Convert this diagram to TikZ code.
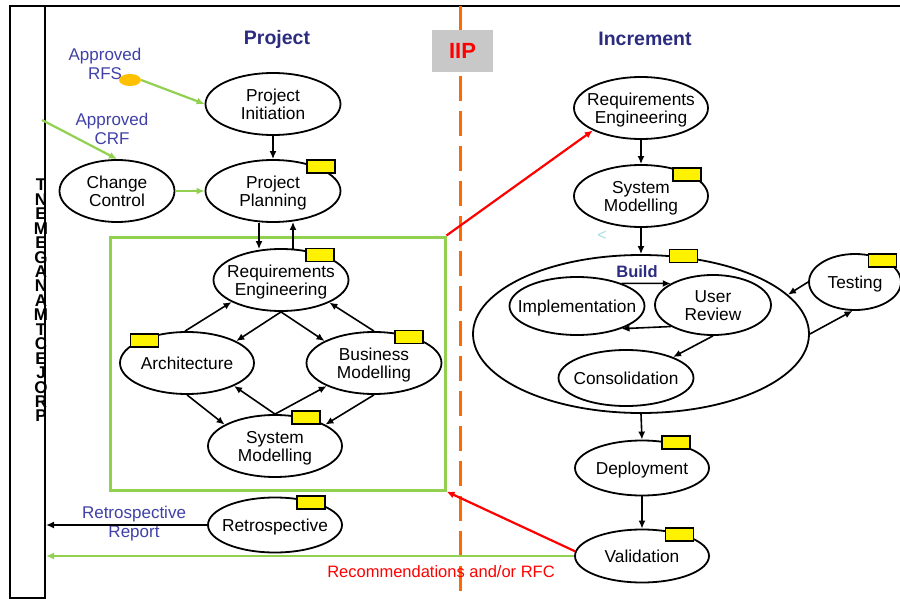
\documentclass[tikz,border=0pt]{standalone}
\usepackage{fontspec}
\setmainfont{Liberation Sans}
\usetikzlibrary{shapes.geometric,arrows.meta,calc}
\definecolor{navy}{HTML}{2B2B80}
\definecolor{lblue}{HTML}{4040A8}
\definecolor{lgreen}{HTML}{92D050}
\definecolor{dorange}{HTML}{FF6A00}
\definecolor{gold}{HTML}{FFC000}
\definecolor{lgray}{HTML}{C8C8C8}
\definecolor{lcyan}{HTML}{A8DCDC}
\newcommand{\nf}{\fontsize{17.3}{18}\selectfont}
\newcommand{\zw}[1]{\makebox[0pt]{\raisebox{-7.3pt}[0pt][0pt]{\begin{tabular}{@{}c@{}}#1\end{tabular}}}}
\begin{document}
\begin{tikzpicture}[x=1pt,y=-1pt,
  proc/.style={draw, ellipse, line width=1.8pt, fill=white, inner sep=0pt, font=\nf},
  tag/.style={draw, fill=yellow, line width=1.5pt, minimum width=28pt, minimum height=13pt, inner sep=0pt},
  arr/.style={-{Latex[length=8pt,width=7pt]}, line width=1.6pt},
  garr/.style={-{Latex[length=8pt,width=7pt]}, line width=2.2pt, draw=lgreen},
  rarr/.style={-{Latex[length=8pt,width=7pt]}, line width=2.2pt, draw=red},
  lbl/.style={font=\fontsize{17}{19}\selectfont, text=lblue, align=center, inner sep=0pt},
  ttl/.style={font=\fontsize{19.5}{22}\selectfont\bfseries, text=navy}]
\useasboundingbox (0,0) rectangle (900,599);
% frame
\draw[line width=2pt] (10,6) -- (900,6);
\node[draw, line width=2pt, minimum width=35pt, minimum height=592pt, inner sep=0pt] (pm) at (27.5,302) {};
\foreach \l [count=\i from 0] in {T,N,E,M,E,G,A,N,A,M,T,C,E,J,O,R,P}
  \node[font=\fontsize{17}{17}\selectfont\bfseries, inner sep=0pt] (pmL\i) at (41,185+14.44*\i) {\l};
% separator
\draw[dorange, line width=3pt, dash pattern=on 25pt off 10pt] (460,6) -- (460,599);
\node[fill=lgray, minimum width=61pt, minimum height=42pt, inner sep=0pt, font=\fontsize{22}{24}\selectfont\bfseries, text=red] (iip) at (462.5,51) {IIP};
% titles
\node[ttl] (tp) at (277,39) {Project};
\node[ttl] (ti) at (645,39) {Increment};
% labels
\node[lbl] (rfs) at (105,64) {Approved\\[0pt]RFS};
\node[lbl] (crf) at (112,129) {Approved\\[0pt]CRF};
\node[ellipse, fill=gold, minimum width=22pt, minimum height=12pt, inner sep=0pt] (dot) at (130,80) {};
\coordinate (crfs) at (42,120);
% project side
\node[proc, minimum width=135pt, minimum height=62pt] (pi) at (273,104) {\zw{Project\\Initiation}};
\node[proc, minimum width=135pt, minimum height=62pt] (pp) at (273,191) {\zw{Project\\Planning}};
\node[proc, minimum width=115pt, minimum height=62pt] (cc) at (117,191) {\zw{Change\\Control}};
\node[tag] (tpp) at (321,166.5) {};
\node[draw=lgreen, line width=3pt, minimum width=335pt, minimum height=253pt, inner sep=0pt] (gb) at (277.5,363.5) {};
\node[proc, minimum width=135pt, minimum height=62pt] (rq) at (281,280) {\zw{Requirements\\Engineering}};
\node[proc, minimum width=134pt, minimum height=62pt] (ar) at (187,363) {\zw{Architecture}};
\node[proc, minimum width=135pt, minimum height=62pt] (bm) at (374,363) {\zw{Business\\Modelling}};
\node[proc, minimum width=134pt, minimum height=62pt] (sm) at (275,446) {\zw{System\\Modelling}};
\node[proc, minimum width=134pt, minimum height=55pt] (re) at (275,525) {\zw{Retrospective}};
\node[tag] (trq) at (320,255) {};
\node[tag] (tar) at (144.5,340.5) {};
\node[tag] (tbm) at (409,337) {};
\node[tag] (tsm) at (306,417.5) {};
\node[tag] (tre) at (311,502.5) {};
\node[lbl] (rr) at (134,524) {Retrospective\\[0pt]Report};
% increment side
\node[proc, minimum width=134pt, minimum height=62pt] (rqI) at (641,108) {\zw{Requirements\\Engineering}};
\node[proc, minimum width=134pt, minimum height=62pt] (smI) at (641,196) {\zw{System\\Modelling}};
\node[tag] (tsmI) at (687,174.5) {};
\node[font=\fontsize{16}{16}\selectfont, text=lcyan, inner sep=0pt] (cy) at (602,236) {<};
\node[draw, ellipse, line width=1.8pt, minimum width=336pt, minimum height=158pt, inner sep=0pt] (bu) at (641,334) {};
\node[tag] (tbu) at (683.5,256) {};
\node[font=\fontsize{16.5}{18}\selectfont\bfseries, text=navy, inner sep=0pt] (bl) at (637,272) {Build};
\node[proc, minimum width=135pt, minimum height=58pt] (im) at (577,306) {\zw{Implementation}};
\node[proc, minimum width=116pt, minimum height=60pt] (ur) at (713,305) {\zw{User\\Review}};
\node[proc, minimum width=135pt, minimum height=56pt] (co) at (626,378) {\zw{Consolidation}};
\node[proc, minimum width=92pt, minimum height=56pt] (te) at (855,282) {\zw{Testing}};
\node[tag] (tte) at (882.5,260.5) {};
\node[proc, minimum width=134pt, minimum height=55pt] (de) at (642,468) {\zw{Deployment}};
\node[tag] (tde) at (676,442.5) {};
\node[proc, minimum width=134pt, minimum height=53pt] (va) at (642,556) {\zw{Validation}};
\node[tag] (tva) at (679.5,534.5) {};
\node[font=\fontsize{16.5}{18}\selectfont, text=red, inner sep=0pt] (rec) at (441,572) {Recommendations and/or RFC};
% connectors
\draw[garr] (dot.east) -- (pi.west);
\draw[garr] (crfs) -- (cc.north);
\draw[garr] (cc.east) -- (pp.west);
\draw[arr] (pi.south) -- (pp.north);
\draw[arr] ([xshift=-14pt]pp.south) -- ([xshift=-22pt,yshift=-1pt]rq.north);
\draw[arr] ([xshift=12pt,yshift=-0.5pt]rq.north) -- ([xshift=20pt,yshift=1pt]pp.south);
\draw[arr] ([xshift=-2pt]ar.north) -- (rq.204);
\draw[arr] (rq.south) -- (ar.24);
\draw[arr] (rq.south) -- (bm.156);
\draw[arr] (bm.north) -- (rq.335);
\draw[arr] (ar.south) -- (sm.157);
\draw[arr] (sm.north) -- (ar.334);
\draw[arr] (sm.north) -- (bm.206);
\draw[arr] (bm.south) -- (sm.23);
\draw[arr] (re.west) -- (re.west -| pm.east);
\draw[garr] (va.west) -- (va.west -| pm.east);
\draw[rarr] (gb.north east) -- (rqI.205);
\draw[rarr] (va.176) -- (gb.south east);
\draw[arr] (rqI.south) -- (smI.north);
\draw[arr] (smI.south) -- (bu.north);
\draw[arr] (im.27) -- (ur.153);
\draw[arr] (ur.207) -- (im.333);
\draw[arr] (ur.south) -- (co.24);
\draw[arr] (te.west) -- (bu.15);
\draw[arr] (bu.east) -- (te.265);
\draw[arr] (bu.south) -- (de.north);
\draw[arr] (de.south) -- (va.north);
\end{tikzpicture}
\end{document}
